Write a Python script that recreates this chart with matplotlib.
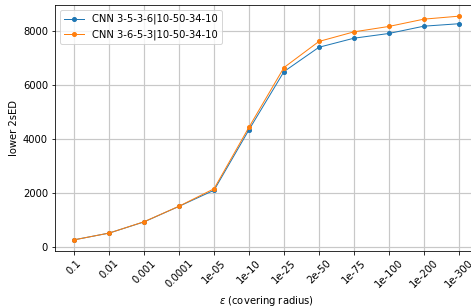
import matplotlib
matplotlib.use("Agg")
import matplotlib.pyplot as plt

# covering radius labels (categorical x axis)
eps_labels = ["0.1", "0.01", "0.001", "0.0001", "1e-05", "1e-10",
              "1e-25", "2e-50", "1e-75", "1e-100", "1e-200", "1e-300"]

# lower 2sED per network
sed_a = [255, 505, 920, 1495, 2090, 4330, 6480, 7380, 7715, 7890, 8160, 8250]
sed_b = [255, 505, 925, 1500, 2145, 4425, 6630, 7595, 7950, 8150, 8420, 8530]

label_a = "CNN 3-5-3-6|10-50-34-10"
label_b = "CNN 3-6-5-3|10-50-34-10"

fig = plt.figure(figsize=(471 / 72, 308 / 72), dpi=72)
ax = fig.add_axes([55 / 471, 57 / 308, 423 / 471, 246 / 308])

x = list(range(len(eps_labels)))
ax.plot(x, sed_a, marker="o", lw=1, ms=4, label=label_a)
ax.plot(x, sed_b, marker="o", lw=1, ms=4, label=label_b)

ax.set_xticks(x)
ax.set_xticklabels(eps_labels, rotation=45)
ax.set_xlabel(r"$\epsilon$ (covering radius)")
ax.set_ylabel("lower 2sED")
ax.grid(True, color="#c8c8c8", lw=1.2)
ax.legend(loc="upper left")

fig.savefig("out.png", dpi=72)
